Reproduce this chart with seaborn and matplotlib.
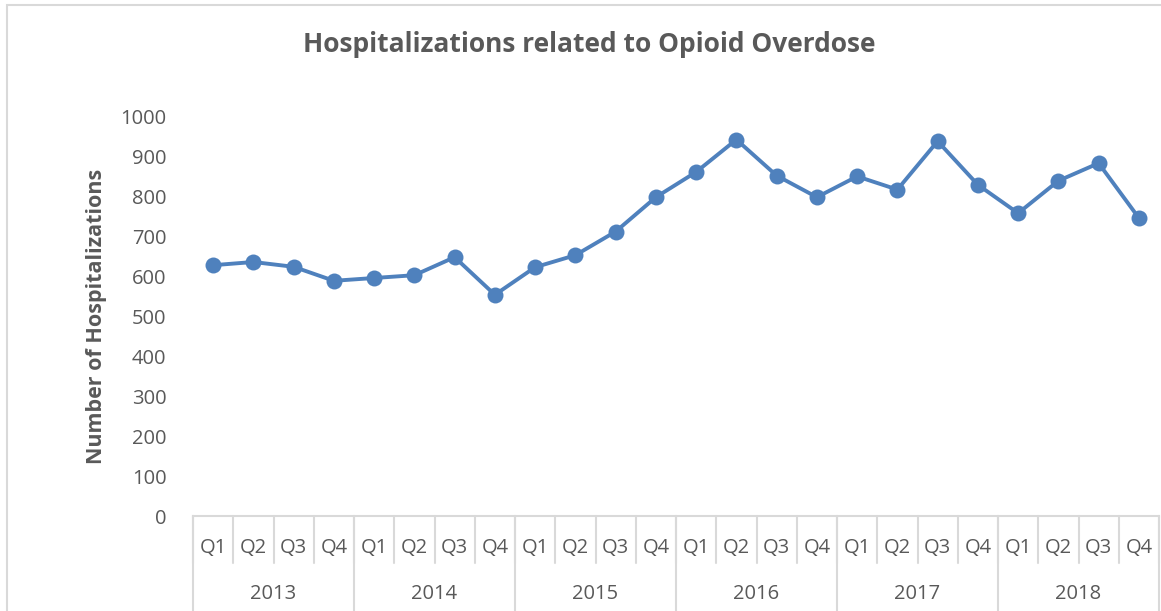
import numpy as np
import pandas as pd
import matplotlib
matplotlib.use("Agg")
import matplotlib.pyplot as plt
import matplotlib.transforms as mtransforms
from matplotlib.patches import Rectangle
import seaborn as sns

years = ["2013", "2014", "2015", "2016", "2017", "2018"]
quarters = ["Q1", "Q2", "Q3", "Q4"]
hospitalizations = [627, 635, 623, 588,
                    595, 602, 647, 553,
                    622, 652, 711, 797,
                    860, 941, 851, 797,
                    849, 816, 937, 828,
                    757, 838, 882, 745]

df = pd.DataFrame({
    "year": np.repeat(years, len(quarters)),
    "quarter": quarters * len(years),
    "count": hospitalizations,
})
df["pos"] = np.arange(len(df))

sns.set_style("white")
plt.rcParams["font.family"] = ["Open Sans", "DejaVu Sans"]
gray = "#595959"
line_gray = "#D9D9D9"
blue = "#4F81BD"
fs = 14.5

fig = plt.figure(figsize=(11.61, 6.11), dpi=100)
ax = fig.add_axes([193 / 1161, (611 - 516) / 611, (1159 - 193) / 1161, 400 / 611])

sns.lineplot(data=df, x="pos", y="count", ax=ax, color=blue, linewidth=2.8,
             marker="o", markersize=11.5, markeredgewidth=0, markeredgecolor=blue)

ax.set_xlim(-0.5, len(df) - 0.5)
ax.set_ylim(0, 1000)
ax.set_yticks(range(0, 1001, 100))
ax.tick_params(axis="y", length=0, labelsize=fs, labelcolor=gray, pad=19)
ax.set_xticks([])
ax.set_xlabel("")
ax.set_ylabel("Number of Hospitalizations", fontsize=15.5, fontweight="bold",
              color=gray, labelpad=10)
for s in ["top", "right", "left"]:
    ax.spines[s].set_visible(False)
ax.spines["bottom"].set_color(line_gray)
ax.spines["bottom"].set_linewidth(1.5)

trans = mtransforms.blended_transform_factory(ax.transData, ax.transAxes)
px = 1 / 400  # one pixel in axes units (vertical)

# quarter labels and separators
for i, row in df.iterrows():
    ax.text(row["pos"], -32 * px, row["quarter"], transform=trans, ha="center",
            va="center", fontsize=fs, color=gray)
for b in np.arange(len(df) + 1) - 0.5:
    ax.plot([b, b], [0, -47 * px], transform=trans, color=line_gray,
            linewidth=1.5, clip_on=False)

# year labels and separators
for k, yr in enumerate(years):
    mid = df.loc[df["year"] == yr, "pos"].mean()
    ax.text(mid, -78 * px, yr, transform=trans, ha="center", va="center",
            fontsize=fs, color=gray)
for k in range(len(years) + 1):
    b = k * len(quarters) - 0.5
    ax.plot([b, b], [0, -100 * px], transform=trans, color=line_gray,
            linewidth=1.5, clip_on=False)

fig.text(589 / 1161, 1 - 45 / 611, "Hospitalizations related to Opioid Overdose",
         ha="center", va="center", fontsize=19, fontweight="bold", color=gray)

fig.patches.append(Rectangle((7 / 1161, -0.1), 1.2, 1 - 5 / 611 + 0.1,
                             transform=fig.transFigure, fill=False,
                             edgecolor=line_gray, linewidth=1.5))

fig.savefig("out.png", dpi=100)
